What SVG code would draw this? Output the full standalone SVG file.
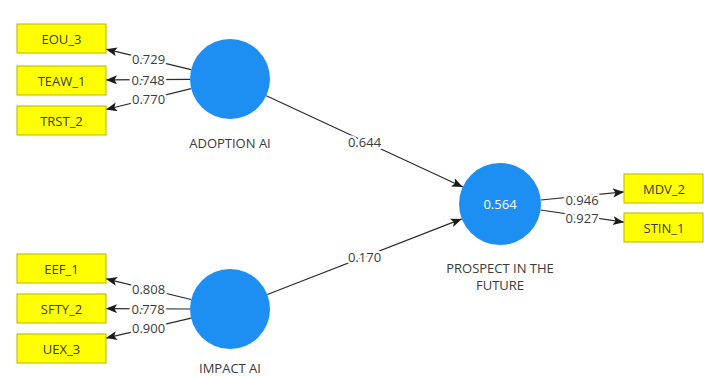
<svg xmlns="http://www.w3.org/2000/svg" width="704" height="376" viewBox="0 0 704 376">
  <style>
    text { font-family: "Open Sans", "Noto Sans", "DejaVu Sans", sans-serif; font-size: 13px; fill: #3a3a3a; text-anchor: middle; dominant-baseline: central; }
    .ind rect { fill: #ffff00; stroke: #b5b500; stroke-width: 1; }
    .lv circle { fill: #1e8ff2; }
    .lv .val { fill: #ffffff; }
    .conn line { stroke: #2a2a2a; stroke-width: 1.2; }
    .lbl { paint-order: stroke; stroke: #ffffff; stroke-width: 5px; stroke-linejoin: round; }
  </style>
  <defs>
    <marker id="arr" markerUnits="userSpaceOnUse" markerWidth="12" markerHeight="10" refX="11" refY="4.5" orient="auto">
      <path d="M0,0 L11,4.5 L0,9 L2.5,4.5 z" fill="#1a1a1a"/>
    </marker>
  </defs>
  <rect width="704" height="376" fill="#ffffff"/>

  <g id="connectors" class="conn">
    <line x1="191.1" y1="69.6" x2="106" y2="49.2" marker-end="url(#arr)"/>
    <line x1="190" y1="79.3" x2="106" y2="79.9" marker-end="url(#arr)"/>
    <line x1="191.2" y1="88.6" x2="106" y2="109.5" marker-end="url(#arr)"/>
    <line x1="191.1" y1="299.5" x2="106" y2="278.8" marker-end="url(#arr)"/>
    <line x1="190" y1="309" x2="106" y2="308.6" marker-end="url(#arr)"/>
    <line x1="191.1" y1="318.1" x2="106" y2="338.1" marker-end="url(#arr)"/>
    <line x1="266.3" y1="95.8" x2="462.8" y2="187" marker-end="url(#arr)"/>
    <line x1="267.3" y1="294.5" x2="461.8" y2="218.9" marker-end="url(#arr)"/>
    <line x1="540.8" y1="200" x2="624" y2="191.9" marker-end="url(#arr)"/>
    <line x1="540.5" y1="210" x2="624" y2="222.2" marker-end="url(#arr)"/>
    <text class="lbl" x="148.5" y="59.4">0.729</text>
    <text class="lbl" x="148" y="79.5">0.748</text>
    <text class="lbl" x="148.6" y="99">0.770</text>
    <text class="lbl" x="148.6" y="289.1">0.808</text>
    <text class="lbl" x="148" y="308.8">0.778</text>
    <text class="lbl" x="148.6" y="328.1">0.900</text>
    <text class="lbl" x="364.5" y="141.5">0.644</text>
    <text class="lbl" x="364.5" y="256.5">0.170</text>
    <text class="lbl" x="582" y="200">0.946</text>
    <text class="lbl" x="582" y="218">0.927</text>
  </g>

  <g id="EOU_3" class="ind"><rect x="17" y="24" width="89" height="29"/><text x="61.5" y="38.5">EOU_3</text></g>
  <g id="TEAW_1" class="ind"><rect x="17" y="66" width="89" height="29"/><text x="61.5" y="80.5">TEAW_1</text></g>
  <g id="TRST_2" class="ind"><rect x="17" y="106" width="89" height="29"/><text x="61.5" y="120.5">TRST_2</text></g>
  <g id="EEF_1" class="ind"><rect x="17" y="254" width="89" height="29"/><text x="61.5" y="268.5">EEF_1</text></g>
  <g id="SFTY_2" class="ind"><rect x="17" y="294" width="89" height="29"/><text x="61.5" y="308.5">SFTY_2</text></g>
  <g id="UEX_3" class="ind"><rect x="17" y="334" width="89" height="29"/><text x="61.5" y="348.5">UEX_3</text></g>
  <g id="MDV_2" class="ind"><rect x="624" y="174" width="79" height="29"/><text x="664" y="188.5">MDV_2</text></g>
  <g id="STIN_1" class="ind"><rect x="624" y="213" width="79" height="29"/><text x="664" y="227.5">STIN_1</text></g>

  <g id="ADOPTION_AI" class="lv"><circle cx="230" cy="79" r="40"/><text x="230" y="143">ADOPTION AI</text></g>
  <g id="IMPACT_AI" class="lv"><circle cx="230" cy="309" r="40"/><text x="230" y="368">IMPACT AI</text></g>
  <g id="PROSPECT" class="lv"><circle cx="500" cy="204" r="41"/><text class="val" x="500" y="204">0.564</text><text x="500" y="268">PROSPECT IN THE</text><text x="500" y="285">FUTURE</text></g>
</svg>
